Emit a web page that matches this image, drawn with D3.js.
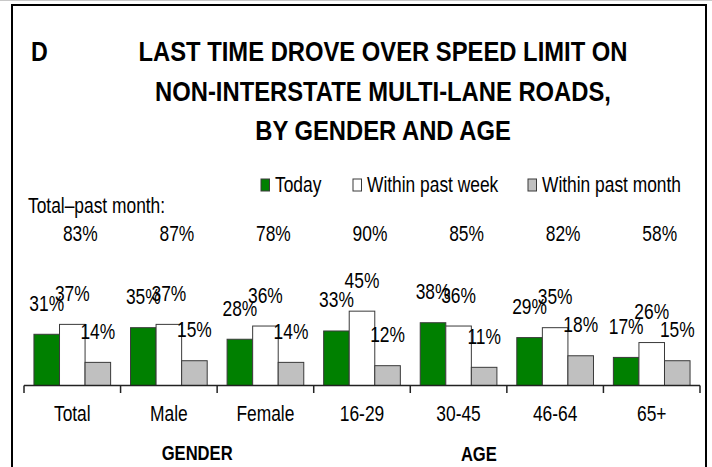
<!DOCTYPE html>
<html>
<head>
<meta charset="utf-8">
<script src="https://cdn.jsdelivr.net/npm/d3@7"></script>
<style>
  body { margin: 0; background: #fff; }
  svg { display: block; }
  text { font-family: "Liberation Sans", Arial, sans-serif; fill: #000; }
</style>
</head>
<body>
<div id="chart"></div>
<script>
// data
var categories = ["Total", "Male", "Female", "16-29", "30-45", "46-64", "65+"];
var today = [31, 35, 28, 33, 38, 29, 17];
var pastWeek = [37, 37, 36, 45, 36, 35, 26];
var pastMonth = [14, 15, 14, 12, 11, 18, 15];
var totalPastMonth = [83, 87, 78, 90, 85, 82, 58];
var seriesNames = ["Today", "Within past week", "Within past month"];
var titleLines = ["LAST TIME DROVE OVER SPEED LIMIT ON", "NON-INTERSTATE MULTI-LANE ROADS,", "BY GENDER AND AGE"];

var W = 712, H = 467;
var SX = 0.79; // everything in the source is squeezed sideways
var FS = 22;
var colors = { today: "#008000", week: "#ffffff", month: "#c0c0c0", edge: "#3a3a3a" };

var svg = d3.select("#chart").append("svg")
  .attr("width", W)
  .attr("height", H);

// put text at x,y and squeeze it horizontally
function place(sel, x, y, sx) {
  return sel.attr("transform", function(d, i) {
    var xx = typeof x === "function" ? x(d, i) : x;
    var yy = typeof y === "function" ? y(d, i) : y;
    return "translate(" + xx + "," + yy + ") scale(" + (sx || SX) + ",1)";
  });
}

// frame
svg.append("line")
  .attr("x1", 0).attr("x2", W).attr("y1", 0.5).attr("y2", 0.5)
  .attr("stroke", "#c8c8c8");
svg.append("path")
  .attr("d", "M12," + H + "V5H706V" + H)
  .attr("fill", "none")
  .attr("stroke", "#000")
  .attr("stroke-width", 2);

// title
place(svg.append("text").text("D"), 31, 61, 0.83)
  .attr("font-size", 28).attr("font-weight", "bold");
place(svg.selectAll("text.title").data(titleLines).enter().append("text")
  .attr("class", "title")
  .text(function(d) { return d; }), 383, function(d, i) { return 61 + i * 39.5; }, 0.85)
  .attr("text-anchor", "middle")
  .attr("font-size", 28)
  .attr("font-weight", "bold");

// scales
var x0 = d3.scaleBand().domain(categories).range([24, 700]).padding(0);
var pad = x0.bandwidth() * 0.103;
var x1 = d3.scaleBand().domain(seriesNames).range([pad, x0.bandwidth() - pad]).padding(0);
var y = d3.scaleLinear().domain([0, 100]).range([385.5, 220.3]);

var rows = categories.map(function(c, i) {
  return { cat: c, vals: [today[i], pastWeek[i], pastMonth[i]] };
});
var fills = [colors.today, colors.week, colors.month];

var groups = svg.selectAll("g.cat").data(rows).enter().append("g")
  .attr("class", "cat")
  .attr("transform", function(d) { return "translate(" + x0(d.cat) + ",0)"; });

groups.selectAll("rect").data(function(d) { return d.vals; }).enter().append("rect")
  .attr("x", function(d, i) { return x1(seriesNames[i]); })
  .attr("y", function(d) { return y(d); })
  .attr("width", x1.bandwidth())
  .attr("height", function(d) { return y(0) - y(d); })
  .attr("fill", function(d, i) { return fills[i]; })
  .attr("stroke", colors.edge)
  .attr("stroke-width", 1);

place(groups.selectAll("text.val").data(function(d) { return d.vals; }).enter().append("text")
  .attr("class", "val")
  .text(function(d) { return d + "%"; }),
  function(d, i) { return x1(seriesNames[i]) + x1.bandwidth() / 2; },
  function(d) { return y(d) - 23.5; })
  .attr("text-anchor", "middle")
  .attr("font-size", FS);

// axis: line with ticks on the category boundaries
var bounds = categories.map(function(c) { return x0(c); }).concat([x0.range()[1]]);
svg.append("line")
  .attr("x1", bounds[0]).attr("x2", bounds[bounds.length - 1])
  .attr("y1", y(0)).attr("y2", y(0))
  .attr("stroke", "#222").attr("stroke-width", 1.5);
svg.selectAll("line.tick").data(bounds).enter().append("line")
  .attr("class", "tick")
  .attr("x1", function(d) { return d; }).attr("x2", function(d) { return d; })
  .attr("y1", y(0)).attr("y2", y(0) + 7.5)
  .attr("stroke", "#222").attr("stroke-width", 1.5);

place(svg.selectAll("text.cat").data(categories).enter().append("text")
  .attr("class", "cat")
  .text(function(d) { return d; }),
  function(d) { return x0(d) + x0.bandwidth() / 2; }, 421)
  .attr("text-anchor", "middle")
  .attr("font-size", FS);

place(svg.append("text").text("GENDER"), x0("Female") - 20, 460)
  .attr("text-anchor", "middle").attr("font-size", 21).attr("font-weight", "bold");
place(svg.append("text").text("AGE"), x0("46-64") - 28, 461)
  .attr("text-anchor", "middle").attr("font-size", 21).attr("font-weight", "bold");

// totals for the past month
place(svg.append("text").text("Total\u2013past month:"), 28, 213)
  .attr("font-size", FS);
place(svg.selectAll("text.tot").data(totalPastMonth).enter().append("text")
  .attr("class", "tot")
  .text(function(d) { return d + "%"; }),
  function(d, i) { return x0(categories[i]) + x0.bandwidth() / 2 + 8; }, 241)
  .attr("text-anchor", "middle")
  .attr("font-size", FS);

// legend
var legendX = [261, 353, 528];
var legend = svg.selectAll("g.legend").data(seriesNames).enter().append("g")
  .attr("class", "legend")
  .attr("transform", function(d, i) { return "translate(" + legendX[i] + ",179)"; });
legend.append("rect")
  .attr("width", 8.5).attr("height", 12)
  .attr("fill", function(d, i) { return fills[i]; })
  .attr("stroke", colors.edge).attr("stroke-width", 1);
place(legend.append("text").text(function(d) { return d; }), 14, 13)
  .attr("font-size", FS);
</script>
</body>
</html>
